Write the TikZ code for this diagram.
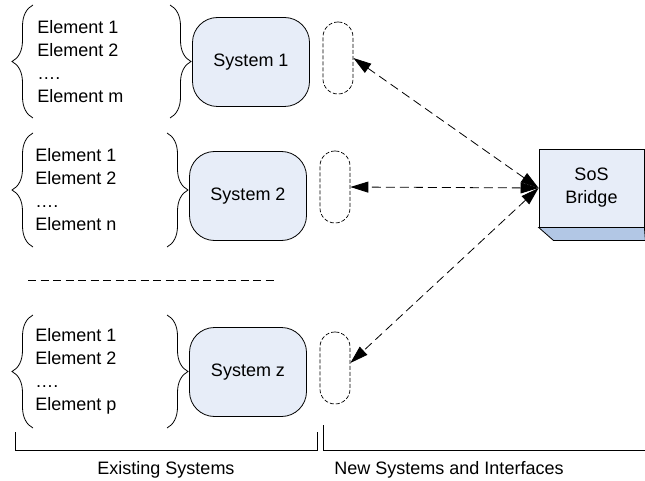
\documentclass[tikz,border=0pt]{standalone}
\usepackage{fontspec}
\setmainfont{Liberation Sans}
\usetikzlibrary{arrows.meta,decorations.pathreplacing}
\definecolor{sysblue}{HTML}{E7EDF8}
\definecolor{bridgeshade}{HTML}{B2C7E5}

\begin{document}
\begin{tikzpicture}[x=1pt,y=-1pt,>={Triangle[length=18pt,width=11pt]},
	font=\fontsize{18}{23}\selectfont,line width=0.8pt]
	\tikzstyle{system}=[draw,fill=sysblue,rounded corners=25pt,minimum width=117pt,minimum height=89pt]
	\tikzstyle{port}=[draw,dash pattern=on 4pt off 2pt,rounded corners=14.9pt,minimum width=30pt,minimum height=72pt,line width=0.7pt]
	\tikzstyle{elements}=[align=left,inner sep=0pt,anchor=west]
	\tikzstyle{link}=[<->,dash pattern=on 9pt off 5pt]
	\tikzstyle{curly}=[decorate,decoration={brace,amplitude=21pt}]

	\useasboundingbox (0,0) rectangle (645,481);

	% existing systems
	\node[elements] (E1) at (37,62) {Element 1\\Element 2\\….\\Element m};
	\node[elements] (E2) at (35,190) {Element 1\\Element 2\\….\\Element n};
	\node[elements] (Ez) at (35,371) {Element 1\\Element 2\\….\\Element p};

	\draw[curly] (33,118) -- (33,5);
	\draw[curly] (170,5) -- (170,118);
	\draw[curly] (33,247) -- (33,133);
	\draw[curly] (167,133) -- (167,247);
	\draw[curly] (33,428) -- (33,315);
	\draw[curly] (167,315) -- (167,428);

	\node[system] (S1) at (251,62) {System 1};
	\node[system] (S2) at (248,196) {System 2};
	\node[system] (Sz) at (248,372) {System z};

	\draw[dash pattern=on 8pt off 4.5pt] (28,280) -- (277,280);

	% interfaces and bridge
	\node[port] (P1) at (338,58) {};
	\node[port] (P2) at (335,187) {};
	\node[port] (Pz) at (335,368) {};

	\node[draw,fill=sysblue,minimum width=105pt,minimum height=78pt,align=center] (B) at (591.5,188) {SoS\\Bridge};
	\filldraw[fill=bridgeshade] (B.south west) -- (B.south east) -- ++(1,13) -- ++(-92,0) -- cycle;

	\path (B.west) edge[link] (P1.east);
	\path (B.west) edge[link] (P2.east);
	\path (B.west) edge[link] ([yshift=5pt]Pz.east);

	% groups
	\draw (15,432) -- (15,450) -- (317,450) -- (317,432);
	\draw (323,425) -- (323,450) -- (645,450);
	\node (existing) at (166,470) {Existing Systems};
	\node (newsys) at (449,470) {New Systems and Interfaces};
\end{tikzpicture}
\end{document}
